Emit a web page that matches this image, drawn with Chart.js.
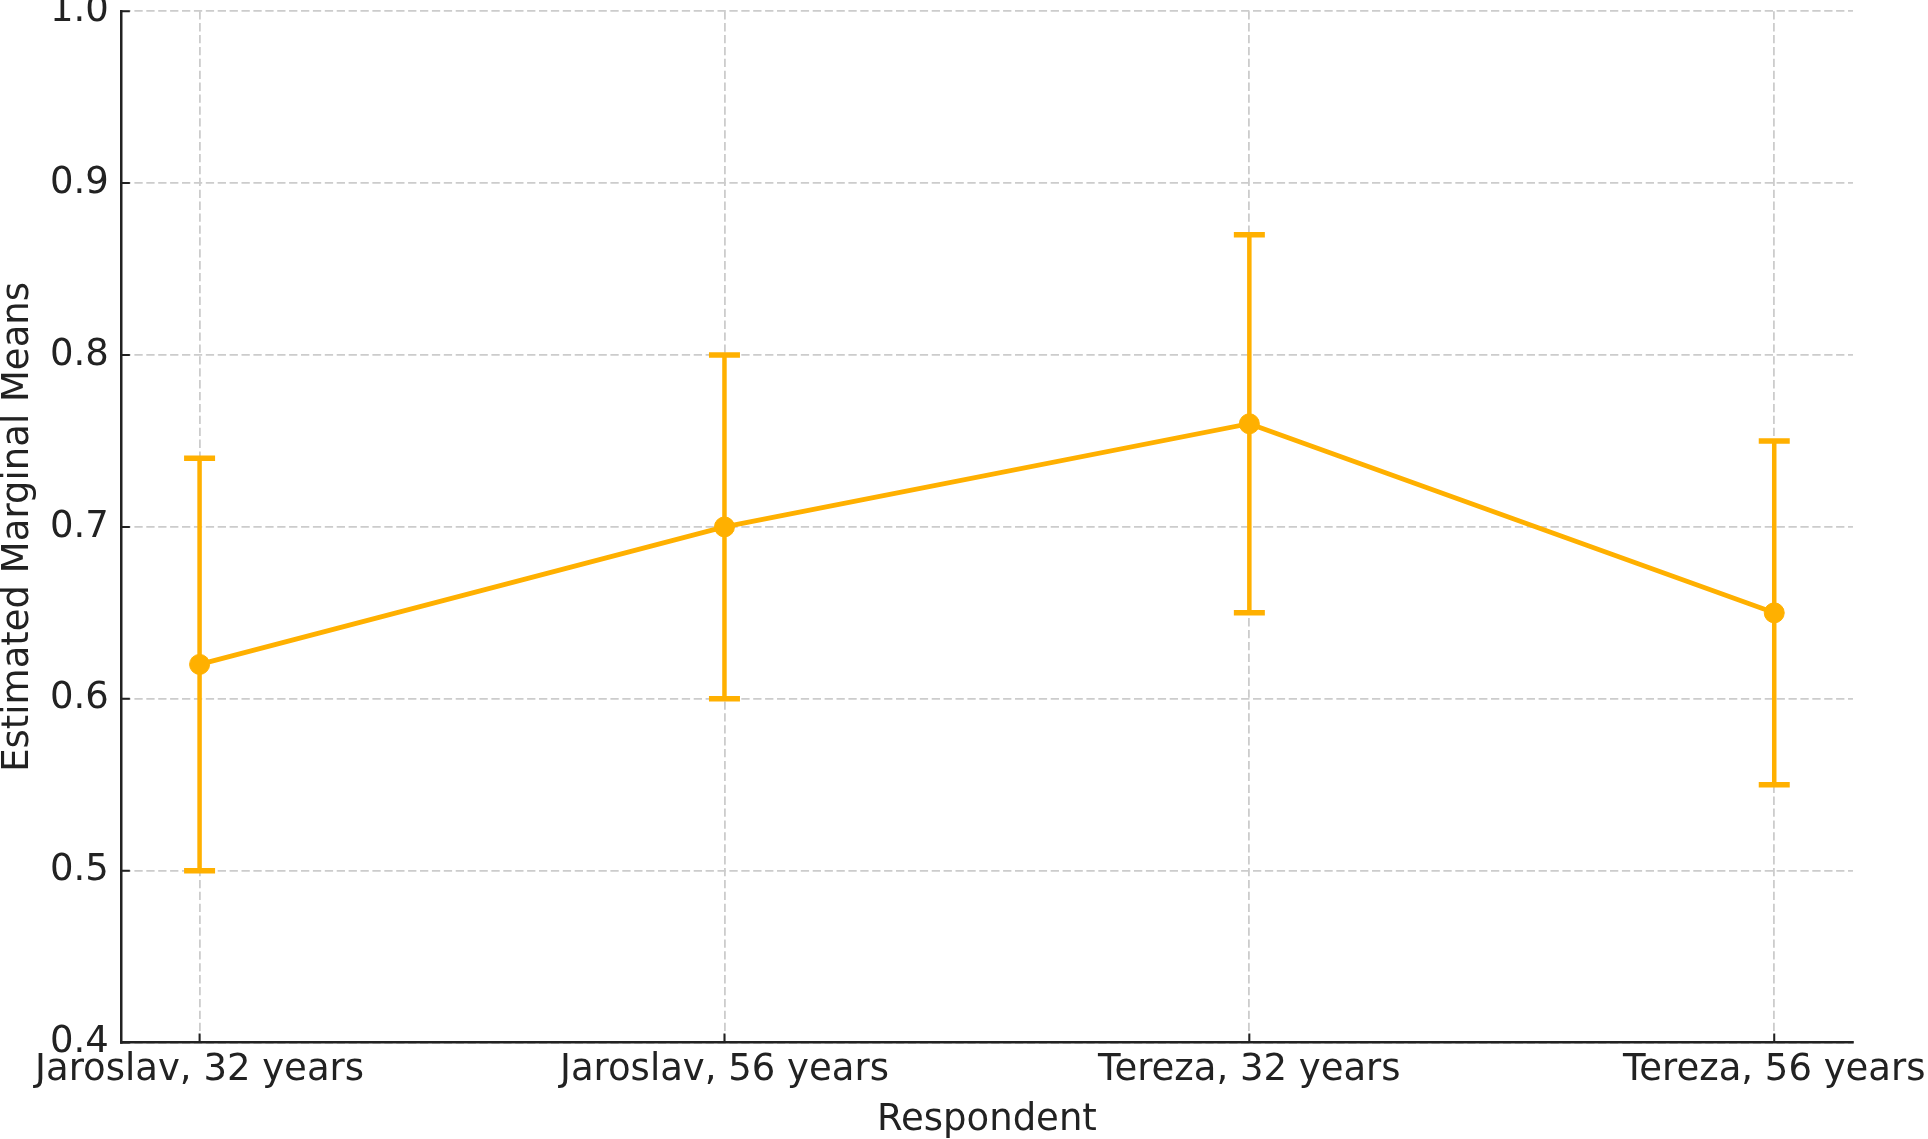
<!DOCTYPE html>
<html>
<head>
<meta charset="utf-8">
<script src="https://cdn.jsdelivr.net/npm/chart.js@4/dist/chart.umd.min.js"></script>
<style>
  html, body { margin: 0; padding: 0; background: #fff; overflow: hidden; }
  #wrap { position: absolute; left: 0; top: -23px; width: 1932px; height: 1162px; }
</style>
</head>
<body>
<div id="wrap"><canvas id="graph"></canvas></div>
<script>
// -------------------------
// DATA
// -------------------------
const respondents = ["Jaroslav, 32 years", "Jaroslav, 56 years", "Tereza, 32 years", "Tereza, 56 years"];
const means = [0.62, 0.70, 0.76, 0.65];
const lower = [0.50, 0.60, 0.65, 0.55];
const upper = [0.74, 0.80, 0.87, 0.75];
const yTicks = [0.4, 0.5, 0.6, 0.7, 0.8, 0.9, 1.0];

const ORANGE = "#ffb000";
const INK = "#222222";
const FONT = "'DejaVu Sans', sans-serif";

// -------------------------
// PLUGIN: error bars + inward tick marks
// -------------------------
const errorBars = {
  id: "errorBars",
  beforeDatasetsDraw(chart) {
    const { ctx, scales: { x, y } } = chart;
    ctx.save();
    ctx.strokeStyle = ORANGE;
    respondents.forEach((r, i) => {
      const px = x.getPixelForValue(i);
      const top = y.getPixelForValue(upper[i]);
      const bot = y.getPixelForValue(lower[i]);
      ctx.lineWidth = 4.5;
      ctx.beginPath();
      ctx.moveTo(px, top);
      ctx.lineTo(px, bot);
      ctx.stroke();
      ctx.lineWidth = 5.5;
      ctx.beginPath();
      ctx.moveTo(px - 15.5, top);
      ctx.lineTo(px + 15.5, top);
      ctx.moveTo(px - 15.5, bot);
      ctx.lineTo(px + 15.5, bot);
      ctx.stroke();
    });
    ctx.restore();
  },
  afterDraw(chart) {
    const { ctx, chartArea: a, scales: { x, y } } = chart;
    ctx.save();
    ctx.strokeStyle = INK;
    ctx.lineWidth = 2;
    ctx.beginPath();
    x.ticks.forEach(t => {
      const px = x.getPixelForValue(t.value);
      ctx.moveTo(px, a.bottom);
      ctx.lineTo(px, a.bottom - 9);
    });
    y.ticks.forEach(t => {
      const py = y.getPixelForValue(t.value);
      ctx.moveTo(a.left, py);
      ctx.lineTo(a.left + 9, py);
    });
    ctx.stroke();
    ctx.restore();
  }
};

// -------------------------
// INIT CHART
// -------------------------
const ctx = document.getElementById("graph").getContext("2d");

new Chart(ctx, {
  type: "line",
  data: {
    datasets: [{
      data: means.map((m, i) => ({ x: i, y: m })),
      borderColor: ORANGE,
      backgroundColor: ORANGE,
      borderWidth: 4.8,
      pointRadius: 10,
      pointBorderWidth: 1,
      pointBackgroundColor: ORANGE,
      pointBorderColor: ORANGE,
      tension: 0
    }]
  },
  options: {
    responsive: true,
    maintainAspectRatio: false,
    animation: false,
    layout: { padding: { left: 0, right: 1, top: 0, bottom: 0 } },
    plugins: {
      legend: { display: false },
      tooltip: { enabled: false }
    },
    scales: {
      x: {
        type: "linear",
        min: -0.15,
        max: 3.15,
        afterBuildTicks(scale) {
          scale.ticks = respondents.map((r, i) => ({ value: i }));
        },
        ticks: {
          autoSkip: false,
          maxRotation: 0,
          padding: 6,
          color: INK,
          font: { family: FONT, size: 37 },
          callback: (v) => respondents[v]
        },
        grid: {
          color: "#cccccc",
          lineWidth: 1.8,
          drawTicks: false,
          tickLength: 0
        },
        border: { display: true, color: INK, width: 2.5, dash: [8.3, 3.6] },
        title: {
          display: true,
          text: "Respondent",
          color: INK,
          font: { family: FONT, size: 37, lineHeight: 1.0 },
          padding: { top: 3, bottom: 0 }
        }
      },
      y: {
        min: 0.4,
        max: 1.0,
        afterBuildTicks(scale) {
          scale.ticks = yTicks.map(v => ({ value: v }));
        },
        ticks: {
          padding: 12,
          color: INK,
          font: { family: FONT, size: 37 },
          callback: (v) => v.toFixed(1)
        },
        grid: {
          color: "#cccccc",
          lineWidth: 1.8,
          drawTicks: false,
          tickLength: 0
        },
        border: { display: true, color: INK, width: 2.5, dash: [8.3, 3.6] },
        title: {
          display: true,
          text: "Estimated Marginal Means",
          color: INK,
          font: { family: FONT, size: 37, lineHeight: 1.0 },
          padding: { top: 0, bottom: 1 }
        }
      }
    }
  },
  plugins: [errorBars]
});
</script>
</body>
</html>
